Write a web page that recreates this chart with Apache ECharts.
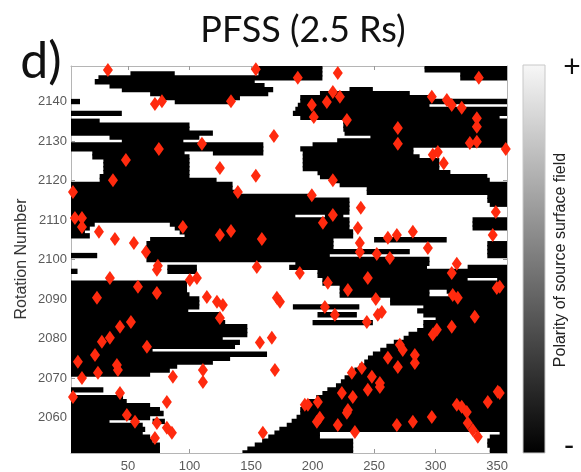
<!DOCTYPE html>
<html><head><meta charset="utf-8">
<script src="https://cdn.jsdelivr.net/npm/echarts@6/dist/echarts.min.js"></script>
<style>html,body{margin:0;padding:0;background:#fff}#c{width:581px;height:472px}</style>
</head><body><div id="c"></div>
<script>
// ---- data ----
const xTickValues = [50, 100, 150, 200, 250, 300, 350];
const yTickValues = [2060, 2070, 2080, 2090, 2100, 2110, 2120, 2130, 2140];

// Carrington rotation of each map row (top to bottom)
const rowRotation = [2149,2148,2147,2146,2145,2144,2143,2142,2141,2140,
  2139,2138,2137,2136,2135,2134,2133,2132,2131,2130,
  2129,2128,2127,2126,2125,2124,2123,2122,2121,2120,
  2119,2118,2117,2116,2115,2114,2113,2112,2111,2110,
  2109,2108,2107,2106,2105,2104,2103,2102,2101,2100,
  2099,2098,2097,2096,2095,2094,2093,2092,2091,2090,
  2089,2088,2087,2086,2085,2084,2083,2082,2081,2080,
  2079,2078,2077,2076,2075,2074,2073,2072,2071,2070,
  2069,2068,2067,2066,2065,2064,2063,2062,2061,2060,
  2059,2058,2057,2056,2055,2054,2053,2052,2051];

// negative-polarity (black) longitude runs [from, to] for each row
const rowNegativeRuns = [
  [[156,208],[291,360]], [[156,208],[291,360]], [[52,88],[156,208],[320,360]], [[26,208],[320,360]],
  [[23,153]], [[35,161]], [[45,168],[230,249]], [[68,164],[206,279]], [[76,141],[190,295]],
  [[0,11],[88,133],[190,360]],
  [[188,295]], [[186,360]], [[0,45],[184,360]], [[190,352]], [[0,27],[225,360]],
  [[0,100],[225,360]], [[0,100],[225,360]], [[0,119],[226,360]], [[35,108],[247,360]], [[45,95],[220,360]],
  [[0,160],[200,360]], [[0,160],[190,282]], [[21,96],[119,160],[192,282]], [[21,100],[192,287]],
  [[30,100],[192,303]], [[30,100],[192,303]], [[30,100],[192,303]], [[30,100],[204,312]],
  [[27,100],[206,342]], [[27,122],[217,344]],
  [[0,135],[222,360]], [[0,135],[244,360]], [[0,141],[244,360]], [[0,198],[342,360]],
  [[0,230],[342,360]], [[0,230],[344,360]], [[0,230]], [[0,230]], [[0,186],[210,225]], [[0,230],[330,360]],
  [[0,23],[84,230],[330,360]], [[0,19],[88,230],[330,360]], [[0,15],[92,233]], [[0,19],[96,233]],
  [[68,217],[250,309]], [[65,217],[342,360]], [[65,217],[342,360]], [[65,279],[342,360]],
  [[0,25],[65,214],[342,360]], [[65,295]],
  [[186,295]], [[82,106],[181,293],[326,360]], [[0,9],[82,106],[204,360]], [[204,360]],
  [[208,326],[350,360]], [[0,98],[208,360]], [[0,98],[222,360]], [[0,98],[222,295],[309,360]],
  [[0,100],[222,295],[312,360]], [[0,108],[263,360]],
  [[0,108],[263,360]], [[0,108],[184,238],[290,360]], [[0,99],[285,360]], [[0,125],[204,236],[290,360]],
  [[0,125],[300,360]], [[0,129],[200,249],[290,360]], [[0,147],[290,360]], [[0,147],[285,360]],
  [[0,147],[278,360]], [[0,127],[274,360]],
  [[0,141],[266,360]], [[0,137],[260,360]], [[0,70],[255,360]], [[0,163],[249,360]], [[0,133],[245,360]],
  [[0,119],[242,360]], [[0,90],[238,360]], [[0,84],[234,360]], [[0,68],[230,360]], [[226,360]],
  [[223,360]], [[219,360]], [[0,30],[212,360]], [[208,360]], [[0,46],[203,360]], [[0,49],[196,360]],
  [[0,68],[191,360]], [[0,76],[190,360]], [[0,79],[190,360]], [[0,68],[187,360]],
  [[0,35],[70,80],[183,360]], [[0,62],[179,360]], [[0,64],[173,360]], [[0,62],[169,206],[352,360]],
  [[0,68],[164,206],[344,360]], [[0,70],[159,233],[342,360]], [[0,76],[153,233],[342,360]],
  [[0,76],[147,233],[344,360]], [[0,76],[143,233],[344,360]]
];

// red diamonds: [longitude, rotation]
const eventLon = [33.7,140.9,153.9,188.0,220.5,335.1,71.9,77.6,133.7,216.5,211.6,222.2,199.4,201.0,227.9,
  296.9,309.1,313.1,321.2,333.5,333.5,327.8,333.5,269.3,269.3,357.0,297.7,301.8,306.6,168.6,
  75.1,110.1,48.3,37.8,124.7,153.9,5.3,139.3,216.5,199.4,6.9,12.6,12.6,26.4,39.4,54.8,
  94.6,124.7,133.7,158.8,64.6,239.2,208.4,216.5,236.8,238.4,261.2,268.5,281.5,293.7,348.9,346.4,
  252.2,262.8,238.4,73.5,74.3,35.3,58.1,73.5,100.3,106.0,114.1,122.3,127.1,124.7,154.7,189.6,
  171.0,173.5,24.8,43.5,52.4,35.3,28.8,23.2,65.4,9.3,12.6,25.6,41.0,41.8,86.5,110.9,110.9,
  81.6,157.2,166.9,169.4,43.5,5.3,49.1,55.7,73.5,71.9,81.6,85.7,159.6,193.7,
  317.2,313.1,212.4,228.7,244.9,251.4,210.0,218.1,244.1,253.0,256.3,313.9,318.0,331.8,297.7,
  301.0,313.1,349.7,352.1,270.9,273.3,261.2,283.1,283.1,269.3,231.9,240.0,248.2,254.7,244.9,
  254.7,223.8,232.7,196.2,204.3,205.9,203.5,228.7,227.9,220.5,234.4,268.5,281.5,296.9,317.2,
  321.2,325.3,326.1,330.2,334.3,342.4,350.5,352.1];
const eventRot = [2148.0,2149.3,2148.2,2146.0,2147.2,2146.0,2139.4,2140.1,2140.1,2142.4,2139.9,2141.2,2139.1,2136.1,2135.3,
  2141.2,2140.4,2139.1,2138.4,2135.8,2133.6,2129.5,2129.8,2133.3,2129.3,2128.0,2126.5,2127.2,2124.4,2131.3,
  2128.0,2129.3,2125.2,2120.1,2123.2,2121.2,2117.1,2117.1,2120.1,2116.3,2110.5,2110.5,2108.2,2107.0,2105.2,2104.2,
  2108.2,2106.2,2107.2,2105.2,2101.9,2113.1,2109.3,2111.3,2108.0,2104.2,2105.5,2106.2,2107.0,2102.9,2112.0,2106.2,
  2101.4,2100.4,2101.9,2097.4,2098.4,2095.3,2093.1,2091.5,2094.8,2095.3,2090.5,2089.3,2088.5,2085.2,2098.1,2096.6,
  2090.3,2089.3,2090.3,2083.0,2084.2,2080.2,2079.2,2075.8,2077.9,2074.1,2070.0,2071.3,2073.3,2072.0,2070.3,2072.0,2069.0,
  2063.9,2079.0,2080.2,2072.0,2066.2,2065.2,2060.6,2058.9,2058.6,2054.8,2057.4,2056.1,2056.1,2063.2,
  2098.9,2096.6,2094.1,2092.3,2095.3,2090.0,2088.0,2086.0,2084.2,2086.0,2086.7,2091.0,2090.3,2085.5,2081.0,
  2082.2,2083.0,2092.8,2093.1,2078.4,2077.1,2075.1,2075.8,2073.8,2072.8,2071.3,2072.5,2070.3,2068.7,2067.0,
  2067.7,2066.2,2065.2,2063.2,2063.9,2059.9,2058.9,2061.9,2061.2,2058.1,2056.3,2058.1,2058.9,2060.1,2063.2,
  2062.7,2061.4,2058.6,2056.8,2055.1,2063.9,2066.5,2066.2];

// ---- build series data ----
const cells = [];
rowRotation.forEach((r, i) => rowNegativeRuns[i].forEach(s => cells.push([s[0], s[1], r])));
const points = eventLon.map((x, i) => [x, eventRot[i]]);

const chart = echarts.init(document.getElementById('c'), null, {renderer: 'canvas'});
const tickFont = {fontFamily: '"Liberation Sans", Arial, sans-serif', fontSize: 13, color: '#5a5a5a'};
const frame = {show: true, onZero: false, lineStyle: {color: '#b5b5b5', width: 1}};
const plain = v => String(v);

chart.setOption({
  backgroundColor: '#fff',
  animation: false,
  grid: {left: 71, top: 66, width: 436, height: 387, containLabel: false, outerBoundsMode: 'none'},
  xAxis: [
    {type: 'value', position: 'bottom', min: 3.7, max: 358, axisLine: frame,
     axisTick: {show: true, inside: true, length: 4, customValues: xTickValues, lineStyle: {color: '#999'}},
     axisLabel: Object.assign({show: true, margin: 7, customValues: xTickValues, formatter: plain}, tickFont),
     splitLine: {show: false}},
    {type: 'value', position: 'top', min: 3.7, max: 358, axisLine: frame,
     axisTick: {show: true, inside: true, length: 4, customValues: xTickValues, lineStyle: {color: '#999'}},
     axisLabel: {show: false}, splitLine: {show: false}}
  ],
  yAxis: [
    {type: 'value', position: 'left', min: 2051, max: 2149, axisLine: frame,
     axisTick: {show: true, inside: true, length: 4, customValues: yTickValues, lineStyle: {color: '#999'}},
     axisLabel: Object.assign({show: true, margin: 4, customValues: yTickValues, formatter: plain}, tickFont),
     splitLine: {show: false}},
    {type: 'value', position: 'right', min: 2051, max: 2149, axisLine: frame,
     axisTick: {show: true, inside: true, length: 4, customValues: yTickValues, lineStyle: {color: '#999'}},
     axisLabel: {show: false}, splitLine: {show: false}}
  ],
  series: [
    {
      type: 'custom',
      xAxisIndex: 0, yAxisIndex: 0,
      data: cells,
      dimensions: ['lonFrom', 'lonTo', 'rotation'],
      encode: {x: [0, 1], y: 2},
      z: 1,
      renderItem: function (params, api) {
        const p0 = api.coord([api.value(0), api.value(2) + 0.5]);
        const p1 = api.coord([api.value(1), api.value(2) - 0.5]);
        const cs = params.coordSys;
        const shape = echarts.graphic.clipRectByRect(
          {x: p0[0], y: p0[1] - 0.7, width: p1[0] - p0[0], height: p1[1] - p0[1] + 1.4},
          {x: cs.x, y: cs.y, width: cs.width, height: cs.height});
        return shape && {type: 'rect', shape: shape, style: {fill: '#000'}};
      }
    },
    {
      type: 'scatter',
      xAxisIndex: 0, yAxisIndex: 0,
      data: points,
      symbol: 'diamond',
      symbolSize: [10, 14],
      itemStyle: {color: '#ff2a0e', opacity: 1},
      z: 5
    }
  ],
  graphic: [
    {type: 'text', x: 303, y: 30, style: {text: 'PFSS (2.5 Rs)', font: '36px Lato, "Open Sans", sans-serif', fill: '#111', align: 'center', verticalAlign: 'middle', textAlign: 'center', textVerticalAlign: 'middle'}},
    {type: 'text', x: 41, y: 62, style: {text: 'd)', font: '50px Lato, "Open Sans", sans-serif', fill: '#111', align: 'center', verticalAlign: 'middle', textAlign: 'center', textVerticalAlign: 'middle'}},
    {type: 'text', x: 22, y: 259, rotation: Math.PI / 2, style: {text: 'Rotation Number', font: '16px "Liberation Sans", Arial, sans-serif', fill: '#333', align: 'center', verticalAlign: 'middle', textAlign: 'center', textVerticalAlign: 'middle'}},
    {type: 'rect', shape: {x: 523, y: 65, width: 22, height: 388},
     style: {fill: new echarts.graphic.LinearGradient(0, 0, 0, 1, [{offset: 0, color: '#f7f7f7'}, {offset: 0.5, color: '#7c7c7c'}, {offset: 1, color: '#000'}]), stroke: '#c8c8c8', lineWidth: 1}},
    {type: 'text', x: 561, y: 260, rotation: Math.PI / 2, style: {text: 'Polarity of source surface field', font: '16px "Liberation Sans", Arial, sans-serif', fill: '#222', align: 'center', verticalAlign: 'middle', textAlign: 'center', textVerticalAlign: 'middle'}},
    {type: 'text', x: 572, y: 67, style: {text: '+', font: '30px Lato, sans-serif', fill: '#111', align: 'center', verticalAlign: 'middle', textAlign: 'center', textVerticalAlign: 'middle'}},
    {type: 'text', x: 569, y: 446, style: {text: '-', font: '30px Lato, sans-serif', fill: '#111', align: 'center', verticalAlign: 'middle', textAlign: 'center', textVerticalAlign: 'middle'}}
  ]
});
</script>
</body></html>
